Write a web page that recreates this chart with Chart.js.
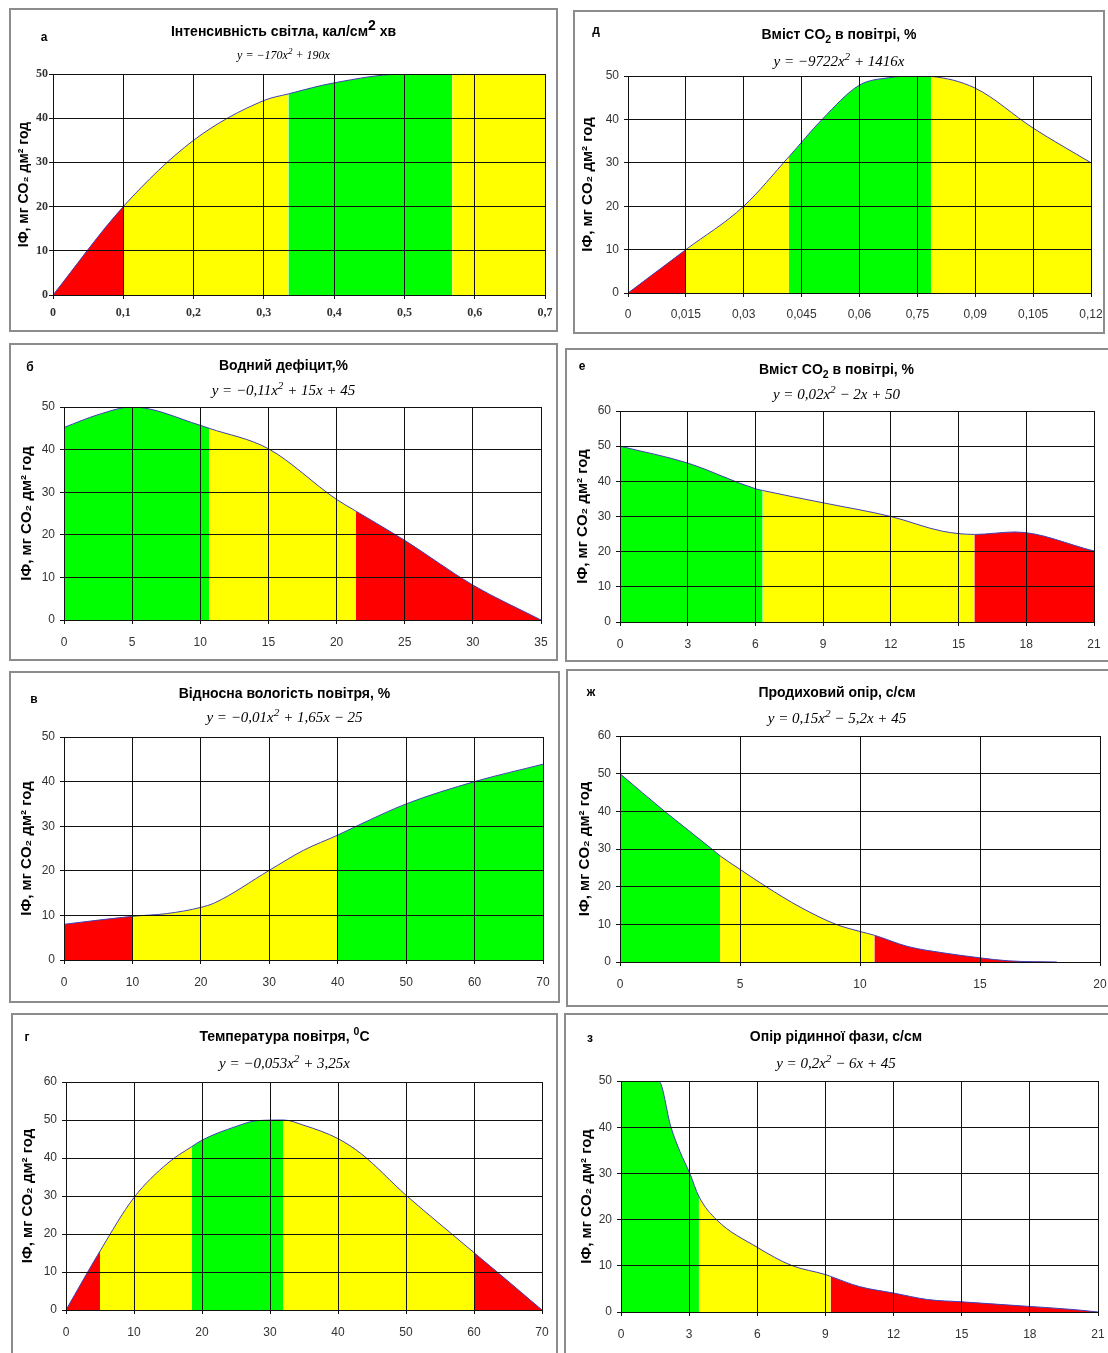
<!DOCTYPE html>
<html>
<head>
<meta charset="utf-8">
<script src="https://cdn.jsdelivr.net/npm/chart.js@4.4.1/dist/chart.umd.min.js"></script>
<style>
    body { margin: 0; background: #fff; width: 1108px; height: 1353px; position: relative; overflow: hidden;
           font-family: 'Liberation Sans', Arial, sans-serif; color: #000; }
    .box { position: absolute; border: 2px solid #8c8c8c; box-sizing: border-box; }
    .box canvas { position: absolute; left: 0; top: 0; }
    .ttl { position: absolute; text-align: center; font-weight: bold; font-size: 14px; line-height: 18px; white-space: nowrap; }
    .frm { position: absolute; text-align: center; font-family: 'Liberation Serif', 'Times New Roman', serif;
           font-style: italic; font-size: 15px; line-height: 18px; white-space: nowrap; }
    .lt { position: absolute; font-weight: bold; font-size: 12px; transform: translate(-50%, -50%); }
    sup, sub { font-size: 75%; line-height: 0; }
</style>
</head>
<body>
<script>
// ---- data ----

// а: інтенсивність світла
const xA = [0, 0.1, 0.2, 0.3, 0.335, 0.4, 0.5, 0.568, 0.6, 0.7];
const yA = [0, 20, 35, 44, 45.5, 48, 50, 50, 50, 50];
const boundsA = [0, 0.1, 0.335, 0.568, 0.7];
const zonesA = ['r', 'y', 'g', 'y'];
const xTicksA = [0, 0.1, 0.2, 0.3, 0.4, 0.5, 0.6, 0.7];
const xLabelsA = ['0', '0,1', '0,2', '0,3', '0,4', '0,5', '0,6', '0,7'];

// д: вміст CO2 (0 - 0,12)
const xD = [0, 0.015, 0.03, 0.0417, 0.0503, 0.06, 0.0675, 0.075, 0.0786, 0.09, 0.105, 0.12];
const yD = [0, 10, 20, 31.4, 40, 47.9, 49.6, 50, 49.9, 47.2, 38, 30];
const boundsD = [0, 0.015, 0.0417, 0.0786, 0.12];
const zonesD = ['r', 'y', 'g', 'y'];
const xTicksD = [0, 0.015, 0.03, 0.045, 0.06, 0.075, 0.09, 0.105, 0.12];
const xLabelsD = ['0', '0,015', '0,03', '0,045', '0,06', '0,75', '0,09', '0,105', '0,12'];

// б: водний дефіцит
const xB = [0, 2.5, 5, 10, 10.65, 15, 20, 21.4, 25, 30, 35];
const yB = [45.2, 48.2, 50, 45.7, 45, 40.2, 28.3, 25.6, 18.7, 8.2, 0];
const boundsB = [0, 10.65, 21.4, 35];
const zonesB = ['g', 'y', 'r'];
const xTicksB = [0, 5, 10, 15, 20, 25, 30, 35];

// е: вміст CO2 (0 - 21)
const xE = [0, 3, 6, 6.32, 9, 12, 14.3, 15.7, 17.5, 21];
const yE = [50, 45.2, 37.9, 37.4, 33.9, 30, 25.8, 24.9, 25.6, 20.2];
const boundsE = [0, 6.32, 15.7, 21];
const zonesE = ['g', 'y', 'r'];
const xTicks21 = [0, 3, 6, 9, 12, 15, 18, 21];

// в: відносна вологість
const xV = [0, 10, 15, 20, 22, 30, 35, 40, 43, 50, 60, 70];
const yV = [8, 9.8, 10.4, 11.8, 12.8, 20.1, 24.6, 28, 30.2, 35, 40, 43.9];
const boundsV = [0, 10, 40, 70];
const zonesV = ['r', 'y', 'g'];
const xTicks70 = [0, 10, 20, 30, 40, 50, 60, 70];

// ж: продиховий опір
const xZh = [0, 1.86, 3.83, 4.17, 5, 6.09, 7.5, 9, 10, 10.6, 12, 13.5, 15, 16.2, 18.2];
const yZh = [50, 40, 30, 28.2, 24.6, 20, 14.6, 10, 8.1, 7.1, 4.1, 2.4, 1.1, 0.3, 0];
const boundsZh = [0, 4.17, 10.6, 18.2];
const zonesZh = ['g', 'y', 'r'];
const xTicksZh = [0, 5, 10, 15, 20];

// г: температура повітря
const xG = [0, 5, 10, 15, 18.5, 20, 25, 28, 32, 35, 40, 43.5, 50, 55, 60, 65, 70];
const yG = [0, 15.5, 29.6, 38.7, 43, 44.7, 48.3, 49.8, 50, 48.6, 45.1, 41, 30.2, 22.6, 15.1, 7.6, 0];
const boundsG = [0, 5, 18.5, 32, 60, 70];
const zonesG = ['r', 'y', 'g', 'y', 'r'];

// з: опір рідинної фази
const xZ = [0, 1.66, 2.2, 2.6, 3.03, 3.43, 4.2, 6, 7.5, 9, 9.23, 10.5, 12, 13.5, 15, 18, 20, 21];
const yZ = [50, 50, 40, 34.7, 30, 25, 20, 14, 10.1, 8.1, 7.7, 5.5, 4.1, 2.7, 2.2, 1.2, 0.5, 0];
const boundsZ = [0, 3.43, 9.23, 21];
const zonesZ = ['g', 'y', 'r'];

const yTicks50 = [0, 10, 20, 30, 40, 50];
const yTicks60 = [0, 10, 20, 30, 40, 50, 60];

const yTitle = 'ІФ, мг CO₂ дм² год';

// ---- styles and layout ----
const FILL = { r: '#ff0000', y: '#ffff00', g: '#00ff00' };
const SANS_NARROW = "'Liberation Sans Narrow', 'Arial Narrow', 'Liberation Sans', sans-serif";
const SERIF = "'Liberation Serif', 'Times New Roman', serif";

const panels = [
    { letter: 'а', title: 'Інтенсивність світла, кал/см<sup style="font-size:100%">2</sup> хв',
      formula: 'y = −170x<sup>2</sup> + 190x', formulaSize: 12, xPad: 7, yPad: 1, yTitleSize: 14,
      x: xA, y: yA, bounds: boundsA, zones: zonesA, xTicks: xTicksA, xLabels: xLabelsA, yTicks: yTicks50,
      tickFont: { family: SERIF, size: 12, weight: 'bold' },
      box: [9, 8, 558, 332], plot: [53, 74, 545, 295], yTitleX: 24, titleY: 31, formulaY: 55, letterAt: [44, 37] },
    { letter: 'д', title: 'Вміст CO<sub>2</sub> в повітрі, %', formula: 'y = −9722x<sup>2</sup> + 1416x', xPad: 10,
      x: xD, y: yD, bounds: boundsD, zones: zonesD, xTicks: xTicksD, xLabels: xLabelsD, yTicks: yTicks50,
      box: [573, 10, 1105, 334], plot: [628, 76, 1091, 293], yTitleX: 588, titleY: 34, formulaY: 61, letterAt: [596, 30] },
    { letter: 'б', title: 'Водний дефіцит,%', formula: 'y = −0,11x<sup>2</sup> + 15x + 45',
      x: xB, y: yB, bounds: boundsB, zones: zonesB, xTicks: xTicksB, yTicks: yTicks50,
      box: [9, 343, 558, 661], plot: [64, 407, 541, 620], yTitleX: 27, titleY: 365, formulaY: 390, letterAt: [30, 367] },
    { letter: 'е', title: 'Вміст CO<sub>2</sub> в повітрі, %', formula: 'y = 0,02x<sup>2</sup> − 2x + 50',
      x: xE, y: yE, bounds: boundsE, zones: zonesE, xTicks: xTicks21, yTicks: yTicks60,
      box: [565, 348, 1112, 662], plot: [620, 411, 1094, 622], yTitleX: 583, titleY: 369, formulaY: 394, letterAt: [582, 366] },
    { letter: 'в', title: 'Відносна вологість повітря, %', formula: 'y = −0,01x<sup>2</sup> + 1,65x − 25',
      x: xV, y: yV, bounds: boundsV, zones: zonesV, xTicks: xTicks70, yTicks: yTicks50,
      box: [9, 671, 560, 1003], plot: [64, 737, 543, 960], yTitleX: 27, titleY: 693, formulaY: 717, letterAt: [34, 699] },
    { letter: 'ж', title: 'Продиховий опір, с/см', formula: 'y = 0,15x<sup>2</sup> − 5,2x + 45',
      x: xZh, y: yZh, bounds: boundsZh, zones: zonesZh, xTicks: xTicksZh, yTicks: yTicks60,
      box: [566, 669, 1112, 1007], plot: [620, 736, 1100, 962], yTitleX: 585, titleY: 692, formulaY: 718, letterAt: [591, 692] },
    { letter: 'г', title: 'Температура повітря, <sup>0</sup>C', formula: 'y = −0,053x<sup>2</sup> + 3,25x',
      x: xG, y: yG, bounds: boundsG, zones: zonesG, xTicks: xTicks70, yTicks: yTicks60,
      box: [11, 1013, 558, 1360], plot: [66, 1082, 542, 1310], yTitleX: 28, titleY: 1036, formulaY: 1063, letterAt: [27, 1037] },
    { letter: 'з', title: 'Опір рідинної фази, с/см', formula: 'y = 0,2x<sup>2</sup> − 6x + 45',
      x: xZ, y: yZ, bounds: boundsZ, zones: zonesZ, xTicks: xTicks21, yTicks: yTicks50,
      box: [564, 1013, 1112, 1360], plot: [621, 1081, 1098, 1312], yTitleX: 587, titleY: 1036, formulaY: 1063, letterAt: [590, 1038] }
];

function zoneColor(p, mx) {
    for (let i = 0; i < p.zones.length; i++) {
        if (mx >= p.bounds[i] && mx <= p.bounds[i + 1]) return FILL[p.zones[i]];
    }
    return 'rgba(0,0,0,0)';
}

function addText(cls, html, left, width, centerY, extra) {
    const el = document.createElement('div');
    el.className = cls;
    el.innerHTML = html;
    el.style.left = left + 'px';
    el.style.width = width + 'px';
    el.style.top = (centerY - 9) + 'px';
    if (extra) Object.assign(el.style, extra);
    document.body.appendChild(el);
}

panels.forEach(function (p) {
    const [bl, bt, br, bb] = p.box;
    const box = document.createElement('div');
    box.className = 'box';
    box.style.left = bl + 'px';
    box.style.top = bt + 'px';
    box.style.width = (br - bl) + 'px';
    box.style.height = (bb - bt) + 'px';
    document.body.appendChild(box);

    const cx = bl + 2, cy = bt + 2;
    const cw = br - bl - 4, ch = bb - bt - 4;
    const canvas = document.createElement('canvas');
    canvas.width = cw;
    canvas.height = ch;
    canvas.style.width = cw + 'px';
    canvas.style.height = ch + 'px';
    box.appendChild(canvas);

    const boxCenterW = Math.min(br, 1108) - bl;
    addText('ttl', p.title, bl, boxCenterW, p.titleY);
    addText('frm', p.formula, bl, boxCenterW, p.formulaY, p.formulaSize ? { fontSize: p.formulaSize + 'px' } : null);

    const lt = document.createElement('div');
    lt.className = 'lt';
    lt.textContent = p.letter;
    lt.style.left = p.letterAt[0] + 'px';
    lt.style.top = p.letterAt[1] + 'px';
    document.body.appendChild(lt);

    const [pl, pt, pr, pb] = p.plot;
    const titleSize = p.yTitleSize || 15;
    const xAxisH = 30;
    const padLeft = p.yTitleX - cx - titleSize * 0.6;
    const yAxisW = pl - cx - padLeft;
    const padTop = pt - cy;
    const padRight = cx + cw - pr;
    const padBottom = (cy + ch) - pb - xAxisH;

    const tickFont = p.tickFont || { family: SANS_NARROW, size: 12 };
    const gridOpts = { color: '#111', lineWidth: 1, tickLength: 4, tickColor: '#111', z: 1 };
    const borderOpts = { color: '#111', width: 1, z: 1 };
    const xLabels = p.xLabels || p.xTicks.map(String);

    new Chart(canvas, {
        type: 'line',
        data: {
            datasets: [{
                data: p.x.map((v, i) => ({ x: v, y: p.y[i] })),
                fill: 'origin',
                backgroundColor: FILL.y,
                borderColor: '#4040b8',
                borderWidth: 1,
                pointRadius: 0,
                cubicInterpolationMode: 'monotone',
                segment: {
                    backgroundColor: ctx => zoneColor(p, (ctx.p0.parsed.x + ctx.p1.parsed.x) / 2)
                }
            }]
        },
        options: {
            responsive: false,
            animation: false,
            devicePixelRatio: 1,
            layout: { padding: { left: padLeft, top: padTop, right: padRight, bottom: padBottom } },
            plugins: { legend: { display: false }, tooltip: { enabled: false } },
            scales: {
                x: {
                    type: 'linear',
                    min: p.xTicks[0],
                    max: p.xTicks[p.xTicks.length - 1],
                    afterBuildTicks: s => { s.ticks = p.xTicks.map(v => ({ value: v })); },
                    afterFit: s => { s.height = xAxisH; s.paddingLeft = 0; s.paddingRight = 0; },
                    ticks: {
                        autoSkip: false, maxRotation: 0, padding: p.xPad || 11, color: '#333', font: tickFont,
                        callback: (v, i) => xLabels[i]
                    },
                    grid: gridOpts,
                    border: borderOpts
                },
                y: {
                    min: 0,
                    max: p.yTicks[p.yTicks.length - 1],
                    afterBuildTicks: s => { s.ticks = p.yTicks.map(v => ({ value: v })); },
                    afterFit: s => { s.width = yAxisW; s.paddingTop = 0; s.paddingBottom = 0; },
                    ticks: {
                        padding: p.yPad !== undefined ? p.yPad : 5, color: '#333', font: tickFont,
                        callback: (v, i) => String(p.yTicks[i])
                    },
                    title: {
                        display: true, text: yTitle, color: '#000', padding: 0,
                        font: { family: "'Liberation Sans', Arial, sans-serif", size: titleSize, weight: 'bold' }
                    },
                    grid: gridOpts,
                    border: borderOpts
                }
            }
        }
    });
});
</script>
</body>
</html>
